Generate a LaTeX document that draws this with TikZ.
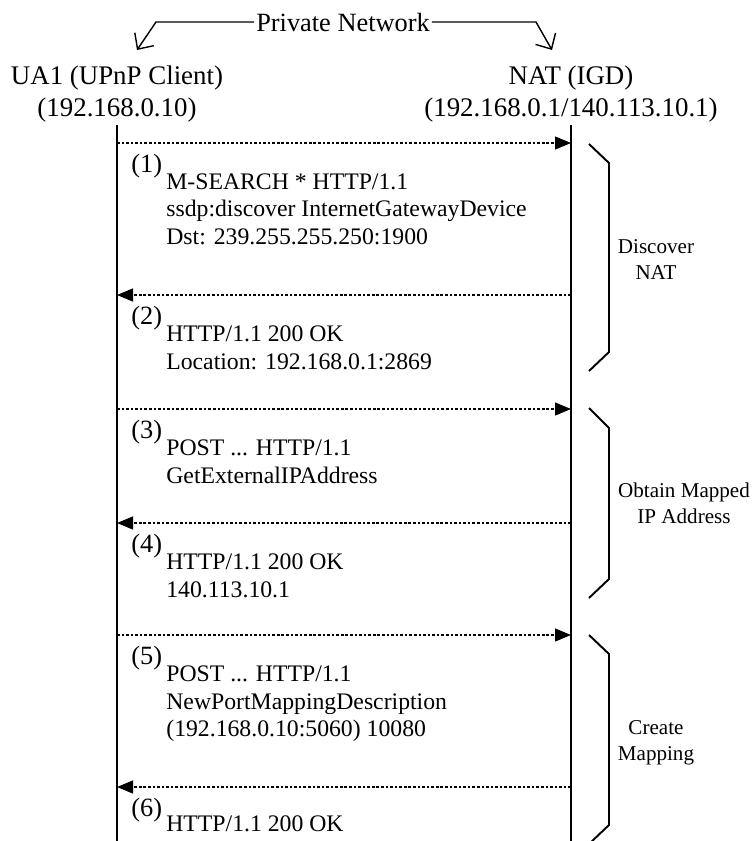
\documentclass[tikz,border=0pt]{standalone}
\usepackage{fontspec}
\setmainfont{Liberation Serif}
\usetikzlibrary{arrows.meta}

\tikzset{
  lifeline/.style={line width=1.1pt},
  msg/.style={line width=0.6pt,dash pattern=on 1.5pt off 1.1pt,-{Triangle[length=0.32cm,width=0.26cm]}},
  netline/.style={line width=0.8pt,-{Straight Barb[length=0.24cm,width=0.46cm]}},
  phase/.style={line width=1.1pt},
  msgnum/.style={anchor=base west,inner sep=0pt,font=\fontsize{15}{17}\selectfont},
  msgtext/.style={anchor=base west,align=left,inner sep=0pt,font=\fontsize{13.5}{15.37}\selectfont},
  party/.style={anchor=base,align=center,inner sep=0pt,font=\fontsize{15.3}{18.1}\selectfont},
  phasetext/.style={anchor=base,align=center,inner sep=0pt,font=\fontsize{12}{14.7}\selectfont}
}

\begin{document}
\begin{tikzpicture}[line join=miter]
  \useasboundingbox (0,0) rectangle (15.06,-16.82);

  % the two parties (anchored on the last line)
  \node[party] (ua) at (2.34,-2.32) {UA1 (UPnP Client)\\(192.168.0.10)};
  \node[party] (nat) at (11.42,-2.32) {NAT (IGD)\\(192.168.0.1/140.113.10.1)};

  % private network
  \node[anchor=base,inner sep=1pt,font=\fontsize{15}{18}\selectfont] (pn) at (6.86,-0.62) {Private Network};
  \coordinate (pnl) at (3.12,-0.44);
  \coordinate (pnr) at (10.72,-0.44);
  \coordinate (tipl) at (2.74,-1.0);
  \coordinate (tipr) at (11.04,-1.0);
  \draw[netline] (pn.west) -- (pnl) -- (tipl);
  \draw[netline] (pn.east) -- (pnr) -- (tipr);

  % lifelines
  \coordinate (ua top) at (2.34,-2.5);
  \coordinate (ua bot) at (2.34,-16.9);
  \coordinate (nat top) at (11.42,-2.5);
  \coordinate (nat bot) at (11.42,-16.9);
  \draw[lifeline] (ua top) -- (ua bot);
  \draw[lifeline] (nat top) -- (nat bot);

  % (1) search
  \coordinate (u1) at (2.34,-2.86);
  \coordinate (n1) at (11.42,-2.86);
  \draw[msg] (u1) -- (n1);
  \node[msgnum] (m1n) at (2.62,-3.44) {(1)};
  \node[msgtext] (m1) at (3.32,-4.88) {M-SEARCH * HTTP/1.1\\ssdp:discover InternetGatewayDevice\\Dst: 239.255.255.250:1900};

  % (2) reply
  \coordinate (u2) at (2.34,-5.90);
  \coordinate (n2) at (11.42,-5.90);
  \draw[msg] (n2) -- (u2);
  \node[msgnum] (m2n) at (2.62,-6.48) {(2)};
  \node[msgtext] (m2) at (3.32,-7.38) {HTTP/1.1 200 OK\\Location: 192.168.0.1:2869};

  % (3) ask address
  \coordinate (u3) at (2.34,-8.18);
  \coordinate (n3) at (11.42,-8.18);
  \draw[msg] (u3) -- (n3);
  \node[msgnum] (m3n) at (2.62,-8.76) {(3)};
  \node[msgtext] (m3) at (3.32,-9.66) {POST ... HTTP/1.1\\GetExternalIPAddress};

  % (4) address
  \coordinate (u4) at (2.34,-10.46);
  \coordinate (n4) at (11.42,-10.46);
  \draw[msg] (n4) -- (u4);
  \node[msgnum] (m4n) at (2.62,-11.04) {(4)};
  \node[msgtext] (m4) at (3.32,-11.94) {HTTP/1.1 200 OK\\140.113.10.1};

  % (5) add mapping
  \coordinate (u5) at (2.34,-12.70);
  \coordinate (n5) at (11.42,-12.70);
  \draw[msg] (u5) -- (n5);
  \node[msgnum] (m5n) at (2.62,-13.28) {(5)};
  \node[msgtext] (m5) at (3.32,-14.72) {POST ... HTTP/1.1\\NewPortMappingDescription\\(192.168.0.10:5060) 10080};

  % (6) ok
  \coordinate (u6) at (2.34,-15.74);
  \coordinate (n6) at (11.42,-15.74);
  \draw[msg] (n6) -- (u6);
  \node[msgnum] (m6n) at (2.62,-16.32) {(6)};
  \node[msgtext] (m6) at (3.32,-16.62) {HTTP/1.1 200 OK};

  % phases
  \draw[phase] (11.78,-2.88) -- (12.18,-3.26) -- (12.18,-7.04) -- (11.78,-7.42);
  \draw[phase] (11.78,-8.16) -- (12.18,-8.56) -- (12.18,-11.58) -- (11.78,-11.96);
  \draw[phase] (11.78,-12.70) -- (12.18,-13.08) -- (12.18,-16.50) -- (11.78,-16.88);
  \node[phasetext] (discover) at (13.12,-5.58) {Discover\\NAT};
  \node[phasetext] (obtain) at (13.68,-10.46) {Obtain Mapped\\IP Address};
  \node[phasetext] (create) at (13.12,-15.20) {Create\\Mapping};
\end{tikzpicture}
\end{document}
